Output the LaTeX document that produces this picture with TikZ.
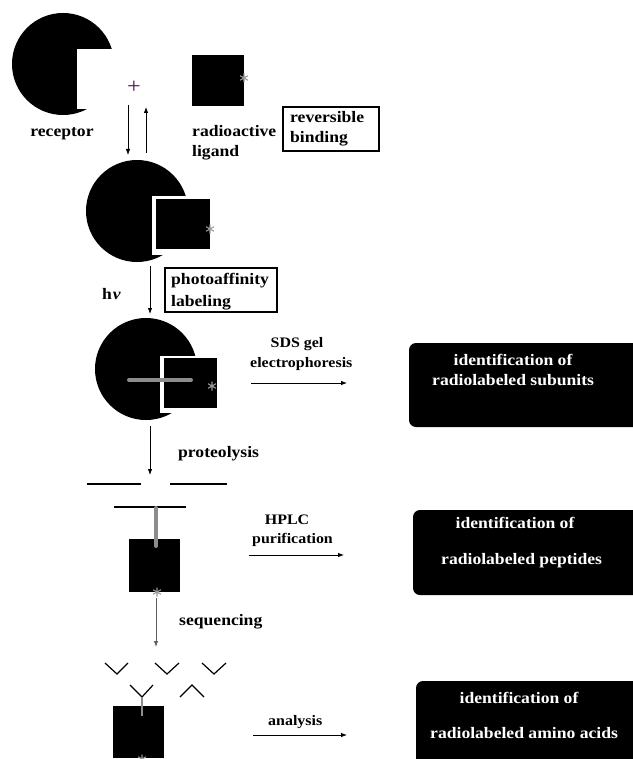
\documentclass[tikz,border=0pt]{standalone}
\usepackage{fontspec}
\setmainfont{Liberation Serif}[FakeStretch=1.1]
\usetikzlibrary{arrows.meta}
\definecolor{bargray}{HTML}{8C8C8C}
\definecolor{stargray}{HTML}{9A9A9A}
\definecolor{plusc}{HTML}{4A1848}
\definecolor{arrgray}{HTML}{606060}
\begin{document}
\begin{tikzpicture}[x=1pt,y=-1pt,
  lbl/.style={font=\fontsize{16}{19}\selectfont\bfseries, inner sep=0pt},
  smalllbl/.style={font=\fontsize{14.5}{17}\selectfont\bfseries, inner sep=0pt},
  wlbl/.style={lbl, text=white},
  arr/.style={-{Latex[length=6pt,width=4.5pt]}, line width=0.8pt},
  gbar/.style={line width=4pt, draw=bargray, line cap=round},
  framebox/.style={draw, line width=1.5pt},
  idbox/.style={fill=black, rounded corners=7pt},
  thinline/.style={line width=1.2pt},
  starline/.style={draw=stargray, line width=1.1pt}]
\newcommand\astk[1]{\draw[starline] (#1) +(0,-4.5) -- +(0,4.5) +(-3.9,-2.25) -- +(3.9,2.25) +(-3.9,2.25) -- +(3.9,-2.25);}
\useasboundingbox (0,0) rectangle (632,759);
\fill[white] (0,0) rectangle (632,759);

% ---------- stage 1: receptor + ligand ----------
\fill (63,64) circle (51);
\fill[white] (77,49) rectangle (122,109);
\node[lbl, anchor=base] (receptor) at (62,137) {receptor};
\node[font=\fontsize{22}{22}\selectfont, text=plusc, inner sep=0pt] (plus) at (134,87) {+};
\fill (192,55) rectangle (244,106);
\coordinate (s1) at (244,78); \astk{s1}
\node[lbl, anchor=base west] (radio) at (192,137) {radioactive};
\node[lbl, anchor=base west] (ligand) at (192,157) {ligand};
\draw[framebox] (283,107) rectangle (379,151);
\node[lbl, anchor=base west] (rev) at (290,123) {reversible};
\node[lbl, anchor=base west] (bind) at (290,143) {binding};

\coordinate (d1a) at (128,105); \coordinate (d1b) at (128,155);
\coordinate (u1a) at (146,153); \coordinate (u1b) at (146,107);
\draw[arr] (d1a) -- (d1b);
\draw[arr] (u1a) -- (u1b);

% ---------- stage 2: complex ----------
\fill (137,211) circle (51);
\fill[white] (152,196) rectangle (214,255);
\fill (156,199) rectangle (210,249);
\coordinate (s2) at (210,229); \astk{s2}
\coordinate (d2a) at (150,266); \coordinate (d2b) at (150,314);
\draw[arr] (d2a) -- (d2b);
\node[lbl, anchor=base west] (hv) at (102,299) {h\kern1pt\textit{ν}};
\draw[framebox] (165,268) rectangle (277,312);
\node[lbl, anchor=base west] (photo) at (171,284) {photoaffinity};
\node[lbl, anchor=base west] (labeling) at (171,306) {labeling};

% ---------- stage 3: labeled complex ----------
\fill (146,369) circle (51);
\fill[white] (160,356) rectangle (221,413);
\fill (164,358) rectangle (217,408);
\draw[gbar] (129,380) -- (191,380);
\coordinate (s3) at (212,386); \astk{s3}
\node[smalllbl, anchor=base] (sds) at (297,347) {SDS gel};
\node[smalllbl, anchor=base west] (electro) at (250,367) {electrophoresis};
\coordinate (h1a) at (251,383); \coordinate (h1b) at (347,383);
\draw[arr] (h1a) -- (h1b);
\fill[idbox] (409,343) rectangle (650,427);
\node[wlbl, anchor=base] (id1) at (513,365) {identification of};
\node[wlbl, anchor=base west] (sub) at (432,385) {radiolabeled subunits};

\coordinate (d3a) at (150,426); \coordinate (d3b) at (150,475);
\draw[arr] (d3a) -- (d3b);
\node[lbl, anchor=base west] (prot) at (178,457) {proteolysis};

% ---------- stage 4: peptides ----------
\draw[thinline] (87,484) -- (141,484);
\draw[thinline] (170,484) -- (227,484);
\draw[thinline] (114,507) -- (186,507);
\fill (129,539) rectangle (180,592);
\draw[gbar] (156,508) -- (156,546);
\coordinate (s4) at (157,592); \astk{s4}
\node[smalllbl, anchor=base] (hplc) at (287,524) {HPLC};
\node[smalllbl, anchor=base west] (puri) at (252,543) {purification};
\coordinate (h2a) at (249,555); \coordinate (h2b) at (344,555);
\draw[arr] (h2a) -- (h2b);
\fill[idbox] (413,510) rectangle (650,595);
\node[wlbl, anchor=base] (id2) at (515,528) {identification of};
\node[wlbl, anchor=base west] (pep) at (441,564) {radiolabeled peptides};

\coordinate (d4a) at (156,598); \coordinate (d4b) at (156,647);
\draw[arr, draw=arrgray, fill=arrgray] (d4a) -- (d4b);
\node[lbl, anchor=base west] (seq) at (179,625) {sequencing};

% ---------- stage 5: amino acids ----------
\draw[thinline] (105,663) -- (117,674) -- (128,663);
\draw[thinline] (155,663) -- (167,674) -- (179,663);
\draw[thinline] (202,663) -- (214,674) -- (226,663);
\draw[thinline] (130,685) -- (142,697) -- (153,685);
\draw[thinline] (180,697) -- (192,685) -- (204,697);
\fill (113,706) rectangle (164,758);
\draw[draw=bargray, line width=2pt] (142,697) -- (142,716);
\coordinate (s5) at (142,759); \astk{s5}
\node[smalllbl, anchor=base west] (ana) at (268,725) {analysis};
\coordinate (h3a) at (253,735); \coordinate (h3b) at (347,735);
\draw[arr] (h3a) -- (h3b);
\fill[idbox] (416,681) rectangle (650,790);
\node[wlbl, anchor=base] (id3) at (519,703) {identification of};
\node[wlbl, anchor=base west] (amino) at (430,738) {radiolabeled amino acids};
\end{tikzpicture}
\end{document}
